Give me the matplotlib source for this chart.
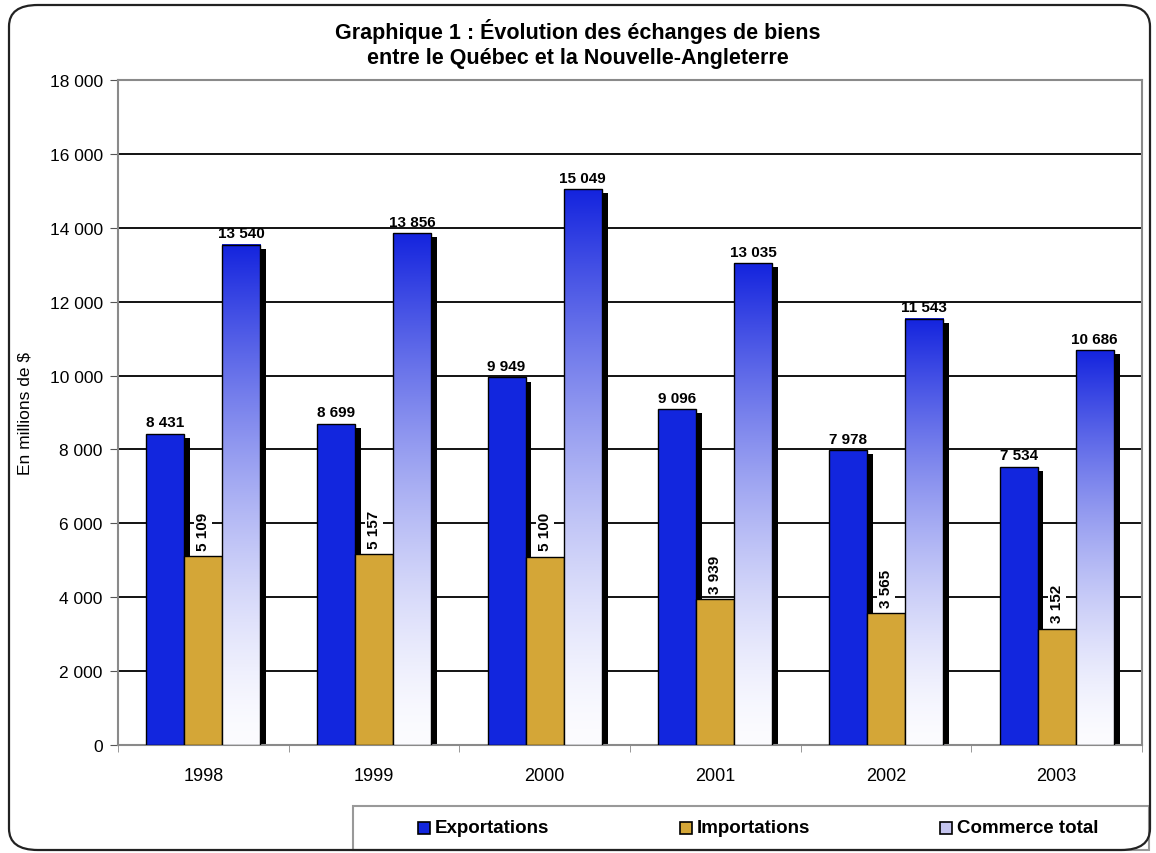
import matplotlib.pyplot as plt
import numpy as np
from matplotlib.patches import FancyBboxPatch, Rectangle

years = ['1998', '1999', '2000', '2001', '2002', '2003']
exportations = [8431, 8699, 9949, 9096, 7978, 7534]
importations = [5109, 5157, 5100, 3939, 3565, 3152]
commerce_total = [13540, 13856, 15049, 13035, 11543, 10686]
series_names = ['Exportations', 'Importations', 'Commerce total']

FONT = ['Liberation Sans', 'DejaVu Sans']
plt.rcParams['font.family'] = FONT

BLUE = '#1226de'
GOLD = '#d4a637'
LAVENDER = '#c4c4ee'


def fmt(v):
    return f'{v:,}'.replace(',', ' ')


W, H = 1156, 854
fig = plt.figure(figsize=(W / 100, H / 100), dpi=100)

# outer rounded frame
frame = FancyBboxPatch((9 / W, 3 / H), 1141 / W, 845 / H,
                       boxstyle='round,pad=0,rounding_size=0.025',
                       transform=fig.transFigure, facecolor='none',
                       edgecolor='#222222', linewidth=1.6, zorder=10)
fig.patches.append(frame)

ax = fig.add_axes([118 / W, 1 - 746 / H, (1142 - 118) / W, (746 - 81) / H])
ax.set_facecolor('white')

x = np.arange(len(years))
bw = 0.223
dx = 0.034
dy = 110

# black drop shadows
for i in range(len(years)):
    for off, val in [(-bw, exportations[i]), (0, importations[i]), (bw, commerce_total[i])]:
        ax.add_patch(Rectangle((x[i] + off - bw / 2 + dx, 0), bw, val - dy,
                               facecolor='black', edgecolor='none', zorder=2))

ax.bar(x - bw, exportations, bw, color=BLUE, edgecolor='black', linewidth=1.0, zorder=3)
ax.bar(x, importations, bw, color=GOLD, edgecolor='black', linewidth=1.0, zorder=3)

# vertical gradient for the total bars
top_c = np.array([20, 36, 222]) / 255
bot_c = np.array([252, 252, 255]) / 255
t = np.linspace(0, 1, 256)[:, None] ** 1.5
grad = (bot_c * (1 - t) + top_c * t).reshape(256, 1, 3)
for i, val in enumerate(commerce_total):
    x0 = x[i] + bw - bw / 2
    ax.imshow(grad, extent=[x0, x0 + bw, 0, val], origin='lower',
              aspect='auto', zorder=3, interpolation='bilinear')
    ax.add_patch(Rectangle((x0, 0), bw, val, facecolor='none',
                           edgecolor='black', linewidth=1.0, zorder=4))

# value labels
for i in range(len(years)):
    ax.text(x[i] - bw, exportations[i] + 120, fmt(exportations[i]),
            ha='center', va='bottom', fontsize=11, fontweight='bold', zorder=6)
    ax.text(x[i] + bw, commerce_total[i] + 120, fmt(commerce_total[i]),
            ha='center', va='bottom', fontsize=11, fontweight='bold', zorder=6)
    ax.text(x[i], importations[i] + 170, fmt(importations[i]),
            ha='center', va='bottom', rotation=90, fontsize=11, fontweight='bold',
            zorder=6, bbox=dict(facecolor='white', edgecolor='none', pad=1.5))

ax.set_xlim(-0.5, len(years) - 0.5)
ax.set_ylim(0, 18000)
ax.set_yticks(range(0, 18001, 2000))
ax.set_yticklabels([fmt(v) for v in range(0, 18001, 2000)], fontsize=12.5)
ax.set_xticks(x)
ax.set_xticklabels(years, fontsize=13)
ax.tick_params(axis='x', length=0, pad=16)
ax.set_xticks(np.arange(-0.5, len(years), 1), minor=True)
ax.tick_params(axis='x', which='minor', length=5, color='#888888')
ax.tick_params(axis='y', length=6, color='#555555', pad=5)
ax.yaxis.grid(True, color='black', linewidth=1.3, zorder=1)
ax.set_axisbelow(True)
for s in ax.spines.values():
    s.set_color('#8a8a8a')
    s.set_linewidth(1.5)
ax.set_ylabel('En millions de $', fontsize=12.5, labelpad=12)

fig.text(0.5, 1 - 44 / H,
         'Graphique 1 : Évolution des échanges de biens\nentre le Québec et la Nouvelle-Angleterre',
         ha='center', va='center', fontsize=15.5, fontweight='bold', linespacing=1.2)

# legend box at the bottom
fig.patches.append(Rectangle((353 / W, 3 / H), (1149 - 353) / W, (851 - 807) / H,
                             transform=fig.transFigure, facecolor='white',
                             edgecolor='#999999', linewidth=1.5, zorder=5))
leg_colors = [BLUE, GOLD, LAVENDER]
leg_x = [418, 680, 940]
for name, col, lx in zip(series_names, leg_colors, leg_x):
    fig.patches.append(Rectangle((lx / W, (854 - 835) / H), 12 / W, 12 / H,
                                 transform=fig.transFigure, facecolor=col,
                                 edgecolor='black', linewidth=1.2, zorder=6))
    fig.text((lx + 17) / W, 1 - 829 / H, name, ha='left', va='center',
             fontsize=13.5, fontweight='bold', zorder=7)

fig.savefig('out.png', dpi=100)
